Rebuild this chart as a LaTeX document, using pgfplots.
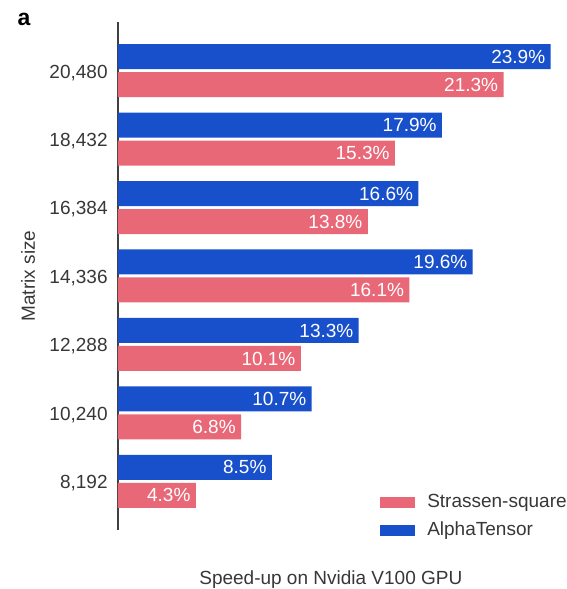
\documentclass[border=0pt]{standalone}
\usepackage{pgfplots}
\pgfplotsset{compat=1.18}
\usepackage{fontspec}
\setmainfont{Liberation Sans}

\definecolor{atblue}{RGB}{24,80,204}
\definecolor{sqpink}{RGB}{233,104,120}
\definecolor{txtgrey}{RGB}{55,55,55}

\newcommand{\lblfont}{\fontsize{9.5}{11}\selectfont}

\begin{document}
\begin{tikzpicture}
\useasboundingbox (-59pt,-29.5pt) rectangle (224.5pt,265pt);
\begin{axis}[
  at={(0pt,0pt)}, anchor=south west,
  scale only axis,
  width=220.8pt, height=254pt,
  xmin=0, xmax=24.4,
  ymin=-0.71, ymax=6.71,
  xbar, bar width=12.5pt,
  axis x line*=bottom,
  x axis line style={draw=none},
  axis y line*=left,
  y axis line style={-, draw=black!75, line width=0.6pt},
  xtick=\empty,
  ytick={0,1,2,3,4,5,6},
  yticklabels={{8,192},{10,240},{12,288},{14,336},{16,384},{18,432},{20,480}},
  major tick length=0pt,
  yticklabel style={inner sep=0pt, xshift=-5pt, yshift=-1pt, text=txtgrey, font=\lblfont},
  ylabel={Matrix size},
  ylabel style={at={(axis description cs:-0.2038,0.5)}, anchor=center, text=txtgrey, font=\lblfont},
  xlabel={Speed-up on Nvidia V100 GPU},
  xlabel style={at={(axis description cs:0.482,-0.0984)}, anchor=center, text=txtgrey, font=\lblfont},
  nodes near coords={\pgfmathprintnumber[fixed,precision=1,fixed zerofill,assume math mode=true]{\pgfplotspointmeta}\%},
  nodes near coords style={anchor=east, text=white, font=\lblfont, inner sep=0pt, xshift=-2.5pt},
  legend style={draw=none, fill=none, inner sep=0pt, anchor=north west,
    at={(axis description cs:0.593,0.0768)},
    font=\lblfont, text=txtgrey,
    nodes={inner sep=1pt, text height=7pt, text depth=2pt},
    row sep=3pt},
  legend cell align=left,
  legend image code/.code={\fill[#1] (0pt,-2.75pt) rectangle (17.5pt,2.75pt); \path (22.5pt,0pt);},
]
\addplot[fill=sqpink, draw=none, bar shift=-7pt] coordinates {
  (4.3,0) (6.8,1) (10.1,2) (16.1,3) (13.8,4) (15.3,5) (21.3,6)
};
\addlegendentry{Strassen-square}
\addplot[fill=atblue, draw=none, bar shift=7pt] coordinates {
  (8.5,0) (10.7,1) (13.3,2) (19.6,3) (16.6,4) (17.9,5) (23.9,6)
};
\addlegendentry{AlphaTensor}
\end{axis}
\node[font=\bfseries\fontsize{11.5}{13}\selectfont, text=black] at (-47pt,255.5pt) {a};
\end{tikzpicture}
\end{document}
